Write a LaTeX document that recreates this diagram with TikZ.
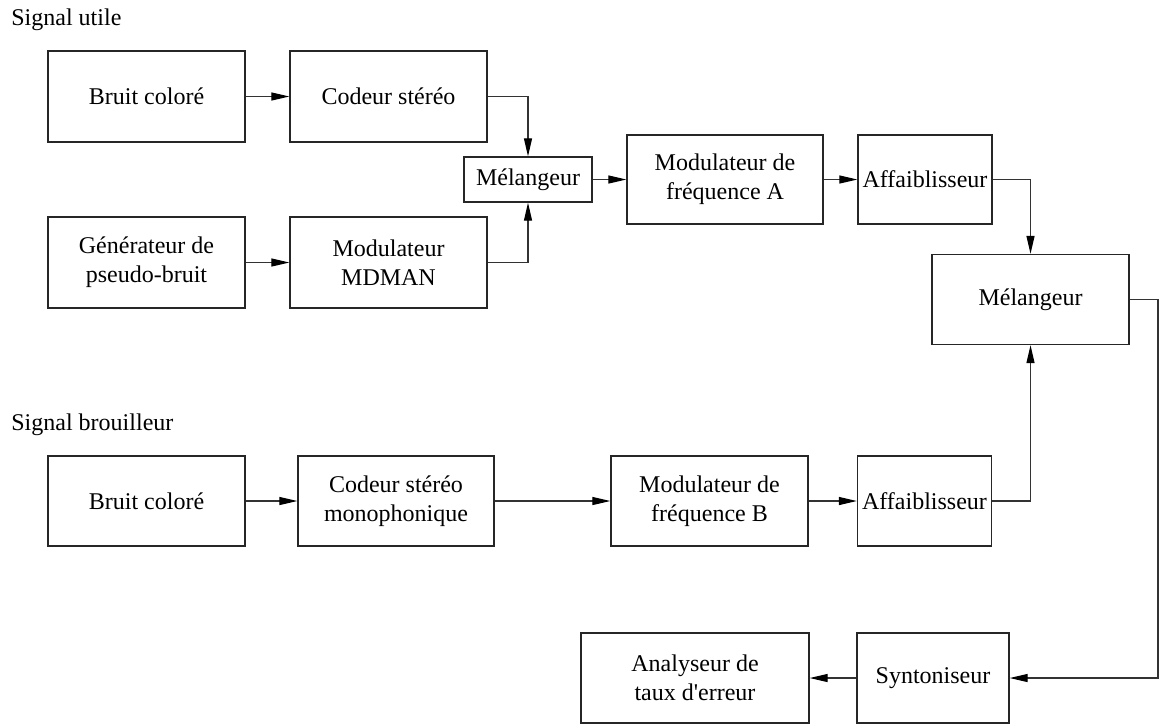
\documentclass[tikz,border=0pt]{standalone}
\usepackage{fontspec}
\setmainfont{Liberation Serif}
\usetikzlibrary{arrows.meta}
\begin{document}
\begin{tikzpicture}[x=0.5pt,y=-0.5pt,
  blk/.style={draw=black!85, line width=0.65pt, align=center, inner sep=0pt,
              font=\fontsize{12}{14.6}\selectfont},
  lbl/.style={anchor=base west, inner sep=0pt, font=\fontsize{12}{14.6}\selectfont},
  conn/.style={draw=black!80, line width=0.6pt,
               -{Triangle[length=9pt,width=4pt,color=black]}}]
\useasboundingbox (0,0) rectangle (1160,725);

\node[lbl] (su) at (11,25) {Signal utile};
\node[lbl] (sb) at (11,430) {Signal brouilleur};

\node[blk, minimum width=98.5pt, minimum height=45.5pt] (bc1) at (146.5,96.5) {Bruit coloré};
\node[blk, minimum width=98.5pt, minimum height=45.5pt] (cod) at (388.5,96.5) {Codeur stéréo};
\node[blk, minimum width=98.5pt, minimum height=45.5pt] (gen) at (146.5,262.5) {Générateur de\\pseudo-bruit};
\node[blk, minimum width=98.5pt, minimum height=45.5pt] (mdm) at (388.5,262.5) {Modulateur\\MDMAN};
\node[blk, minimum width=64pt, minimum height=22.5pt] (melS) at (528,179.5) {Mélangeur};
\node[blk, minimum width=98pt, minimum height=44.5pt] (modA) at (725,179.5) {Modulateur de\\fréquence A};
\node[blk, minimum width=67pt, minimum height=44.5pt] (aff1) at (925,179.5) {Affaiblisseur};
\node[blk, minimum width=98.5pt, minimum height=45pt] (melB) at (1030.5,299.5) {Mélangeur};

\node[blk, minimum width=98.5pt, minimum height=45pt] (bc2) at (146.5,501) {Bruit coloré};
\node[blk, minimum width=98pt, minimum height=45pt] (codm) at (396,501) {Codeur stéréo\\monophonique};
\node[blk, minimum width=98.5pt, minimum height=45pt] (modB) at (709.5,501) {Modulateur de\\fréquence B};
\node[blk, minimum width=67pt, minimum height=45pt] (aff2) at (924.5,501) {Affaiblisseur};

\node[blk, minimum width=114pt, minimum height=45pt] (ana) at (695,678) {Analyseur de\\taux d\textquotesingle erreur};
\node[blk, minimum width=76pt, minimum height=45pt] (syn) at (933,678) {Syntoniseur};

\coordinate (rc) at (1158,678);

\draw[conn] (bc1) -- (cod);
\draw[conn] (gen) -- (mdm);
\draw[conn] (cod.east) -| (melS.north);
\draw[conn] (mdm.east) -| (melS.south);
\draw[conn] (melS) -- (modA);
\draw[conn] (modA) -- (aff1);
\draw[conn] (aff1.east) -| (melB.north);
\draw[conn] (bc2) -- (codm);
\draw[conn] (codm) -- (modB);
\draw[conn] (modB) -- (aff2);
\draw[conn] (aff2.east) -| (melB.south);
\draw[conn] (melB.east) -| (rc) -- (syn.east);
\draw[conn] (syn) -- (ana);
\end{tikzpicture}
\end{document}
